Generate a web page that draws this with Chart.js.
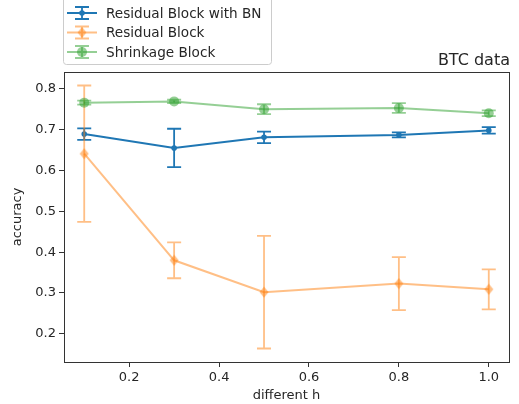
<!DOCTYPE html>
<html>
<head>
<meta charset="utf-8">
<title>BTC data</title>
<script src="https://cdn.jsdelivr.net/npm/chart.js@4"></script>
<style>
  html, body { margin: 0; padding: 0; background: #fff; }
  canvas { display: block; }
</style>
</head>
<body>
<canvas id="accChart" width="519" height="404"></canvas>
<script>
// h values and measured accuracy (mean, std) for each block type
const hValues = [0.1, 0.3, 0.5, 0.8, 1.0];
const bnMean = [0.689, 0.655, 0.681, 0.687, 0.698];
const bnErr = [0.014, 0.047, 0.014, 0.006, 0.008];
const resMean = [0.641, 0.380, 0.302, 0.323, 0.309];
const resErr = [0.167, 0.044, 0.138, 0.065, 0.049];
const shrinkMean = [0.766, 0.769, 0.750, 0.753, 0.740];
const shrinkErr = [0.005, 0.004, 0.012, 0.012, 0.007];

const seriesNames = ['Residual Block with BN', 'Residual Block', 'Shrinkage Block'];
const xTicks = [0.2, 0.4, 0.6, 0.8, 1.0];
const yTicks = [0.2, 0.3, 0.4, 0.5, 0.6, 0.7, 0.8];

const CAP = 7;

function toPoints(xs, ys) {
    return xs.map((x, i) => ({ x: x, y: ys[i] }));
}

// thin diamond marker, like matplotlib's 'd'
function thinDiamond(color) {
    const c = document.createElement('canvas');
    c.width = 10; c.height = 12;
    const g = c.getContext('2d');
    g.fillStyle = color;
    g.beginPath();
    g.moveTo(5, 0.5);
    g.lineTo(9.5, 6);
    g.lineTo(5, 11.5);
    g.lineTo(0.5, 6);
    g.closePath();
    g.fill();
    return c;
}

const blue = '#1f77b4';
const orange = 'rgba(255,127,14,0.5)';
const green = 'rgba(44,160,44,0.5)';
const diamond = thinDiamond(orange);

// vertical error bars with caps, drawn under each line
const errorBars = {
    id: 'errorBars',
    beforeDatasetDraw(chart, args) {
        const ds = chart.data.datasets[args.index];
        if (!ds.errors) return;
        const xs = chart.scales.x, ys = chart.scales.y;
        const ctx = chart.ctx;
        ctx.save();
        ctx.strokeStyle = ds.borderColor;
        ctx.lineWidth = 1.8;
        ds.data.forEach((p, i) => {
            const px = xs.getPixelForValue(p.x);
            const top = ys.getPixelForValue(p.y + ds.errors[i]);
            const bot = ys.getPixelForValue(p.y - ds.errors[i]);
            ctx.beginPath();
            ctx.moveTo(px, top); ctx.lineTo(px, bot);
            ctx.moveTo(px - CAP, top); ctx.lineTo(px + CAP, top);
            ctx.moveTo(px - CAP, bot); ctx.lineTo(px + CAP, bot);
            ctx.stroke();
        });
        ctx.restore();
    }
};

// axes frame, title and legend
const decorations = {
    id: 'decorations',
    afterDraw(chart) {
        const ctx = chart.ctx;
        const a = chart.chartArea;
        ctx.save();
        ctx.strokeStyle = '#333';
        ctx.lineWidth = 1;
        ctx.strokeRect(Math.round(a.left) + 0.5, Math.round(a.top) + 0.5,
            Math.round(a.right - a.left), Math.round(a.bottom - a.top));

        ctx.fillStyle = '#262626';
        ctx.font = '16px "DejaVu Sans"';
        ctx.textAlign = 'right';
        ctx.textBaseline = 'alphabetic';
        ctx.fillText('BTC data', a.right + 1, a.top - 7);

        // legend box
        const bx = 63.5, by = -3.5, bw = 208, bh = 68;
        ctx.fillStyle = 'rgba(255,255,255,0.8)';
        ctx.strokeStyle = '#cccccc';
        ctx.beginPath();
        ctx.roundRect(bx, by, bw, bh, 3);
        ctx.fill();
        ctx.stroke();

        const rows = [13, 32.5, 52];
        chart.data.datasets.forEach((ds, i) => {
            const cy = rows[i];
            const cx = 82;
            ctx.strokeStyle = ds.borderColor;
            ctx.lineWidth = 1.8;
            ctx.beginPath();
            ctx.moveTo(67, cy); ctx.lineTo(97, cy);
            ctx.moveTo(cx, cy - 6); ctx.lineTo(cx, cy + 6);
            ctx.moveTo(cx - CAP, cy - 6); ctx.lineTo(cx + CAP, cy - 6);
            ctx.moveTo(cx - CAP, cy + 6); ctx.lineTo(cx + CAP, cy + 6);
            ctx.stroke();
            if (ds.pointStyle === diamond) {
                ctx.drawImage(diamond, cx - 5, cy - 6);
            } else {
                ctx.fillStyle = ds.pointBackgroundColor;
                ctx.beginPath();
                ctx.arc(cx, cy, ds.pointRadius, 0, Math.PI * 2);
                ctx.fill();
            }
            ctx.fillStyle = '#262626';
            ctx.font = '13.6px "DejaVu Sans"';
            ctx.textAlign = 'left';
            ctx.textBaseline = 'middle';
            ctx.fillText(seriesNames[i], 106, cy + 1);
        });
        ctx.restore();
    }
};

Chart.defaults.font.family = '"DejaVu Sans"';
Chart.defaults.font.size = 13;
Chart.defaults.color = '#262626';

const ctx = document.getElementById('accChart').getContext('2d');
const accChart = new Chart(ctx, {
    type: 'line',
    data: {
        datasets: [{
            label: seriesNames[0],
            data: toPoints(hValues, bnMean),
            errors: bnErr,
            borderColor: blue,
            borderWidth: 2,
            pointRadius: 2.8,
            pointBorderWidth: 0,
            pointBackgroundColor: blue,
            order: 3
        }, {
            label: seriesNames[1],
            data: toPoints(hValues, resMean),
            errors: resErr,
            borderColor: orange,
            borderWidth: 2,
            pointStyle: diamond,
            pointRadius: 5,
            pointBackgroundColor: orange,
            order: 2
        }, {
            label: seriesNames[2],
            data: toPoints(hValues, shrinkMean),
            errors: shrinkErr,
            borderColor: green,
            borderWidth: 2,
            pointRadius: 5,
            pointBorderWidth: 0,
            pointBackgroundColor: green,
            order: 1
        }]
    },
    options: {
        responsive: false,
        animation: false,
        layout: { padding: { top: 72, right: 10, left: 0, bottom: 0 } },
        plugins: {
            legend: { display: false },
            tooltip: { enabled: false }
        },
        scales: {
            x: {
                type: 'linear',
                min: 0.055,
                max: 1.045,
                afterBuildTicks: s => { s.ticks = xTicks.map(v => ({ value: v })); },
                afterFit: s => { s.height = 42; },
                ticks: {
                    padding: 3,
                    callback: v => v.toFixed(1)
                },
                grid: { drawOnChartArea: false, tickLength: 5, color: '#333' },
                border: { display: false },
                title: { display: true, text: 'different h', padding: { top: 2, bottom: 1 } }
            },
            y: {
                min: 0.131,
                max: 0.841,
                afterBuildTicks: s => { s.ticks = yTicks.map(v => ({ value: v })); },
                afterFit: s => { s.width = 64; },
                ticks: {
                    padding: 3,
                    callback: v => v.toFixed(1)
                },
                grid: { drawOnChartArea: false, tickLength: 5, color: '#333' },
                border: { display: false },
                title: { display: true, text: 'accuracy', padding: { top: 10, bottom: 2 } }
            }
        }
    },
    plugins: [errorBars, decorations]
});
</script>
</body>
</html>
